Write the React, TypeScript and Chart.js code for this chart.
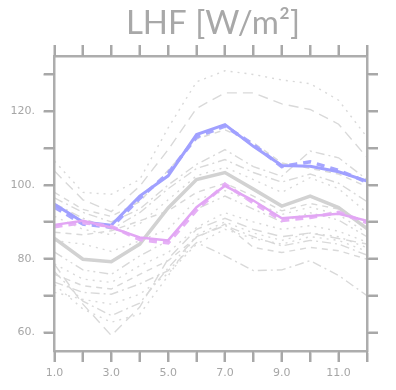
import React, { useEffect, useRef } from 'react';
import { Chart, registerables } from 'chart.js';

Chart.register(...registerables);

// ---- data ----
const months = [1, 2, 3, 4, 5, 6, 7, 8, 9, 10, 11, 12];
const yTickValues = [60, 70, 80, 90, 100, 110, 120, 130];

const blueSolid = [94.8, 90.0, 89.1, 97.0, 102.5, 113.7, 116.4, 110.5, 105.3, 105.1, 103.6, 101.1];
const blueDashed = [94.0, 89.4, 88.6, 96.4, 103.2, 113.0, 116.0, 111.0, 105.0, 106.3, 104.0, 100.8];
const violetSolid = [89.2, 90.3, 88.5, 85.8, 85.0, 94.0, 99.8, 95.8, 91.0, 91.6, 92.2, 90.3];
const violetDashed = [88.7, 89.8, 88.8, 85.2, 84.3, 93.2, 100.2, 95.2, 90.4, 91.2, 92.6, 89.8];
const grayMean = [85.5, 79.9, 79.2, 84.0, 93.8, 101.5, 103.4, 98.9, 94.3, 97.0, 93.9, 88.2];

const ens01 = [106.5, 98.0, 97.5, 101.5, 115.5, 128.0, 131.0, 130.0, 128.5, 127.5, 123.0, 113.0];
const ens02 = [103.8, 96.0, 92.8, 99.7, 109.6, 120.8, 125.0, 125.0, 122.0, 120.5, 116.5, 107.5];
const ens03 = [98.0, 93.4, 91.5, 95.5, 104.0, 112.5, 115.0, 111.5, 106.0, 104.5, 103.0, 99.5];
const ens04 = [96.5, 92.6, 90.0, 93.5, 100.0, 105.6, 109.6, 105.0, 102.4, 109.2, 107.4, 101.5];
const ens05 = [95.0, 91.0, 88.0, 92.5, 99.0, 104.5, 106.9, 103.4, 100.8, 103.0, 100.5, 95.5];
const ens06 = [91.5, 88.0, 86.5, 89.5, 96.0, 102.5, 104.8, 101.5, 98.0, 102.0, 99.0, 92.5];
const ens07 = [87.2, 86.5, 87.6, 90.3, 93.0, 98.0, 100.5, 97.0, 93.0, 95.0, 93.5, 88.5];
const ens08 = [84.9, 84.0, 82.0, 84.9, 88.0, 96.0, 98.5, 95.5, 92.0, 94.0, 92.0, 87.0];
const ens09 = [81.8, 77.0, 75.8, 80.8, 84.9, 93.5, 97.0, 93.5, 90.0, 92.5, 90.5, 86.0];
const ens10 = [78.6, 74.5, 73.6, 78.1, 81.7, 88.5, 92.5, 90.0, 88.0, 89.0, 87.5, 84.5];
const ens11 = [75.8, 72.7, 71.8, 75.8, 79.5, 85.8, 89.4, 83.1, 81.7, 83.1, 82.2, 79.9];
const ens12 = [73.7, 70.9, 70.4, 73.2, 76.8, 84.4, 80.8, 76.8, 77.0, 79.5, 75.5, 70.0];
const ens13 = [70.9, 69.0, 67.7, 70.4, 76.0, 84.0, 88.0, 85.5, 84.0, 86.0, 85.0, 82.0];
const ens14 = [78.5, 67.7, 59.2, 66.9, 80.0, 88.0, 91.0, 88.0, 86.0, 87.0, 85.5, 84.0];
const ens15 = [73.0, 66.4, 62.8, 65.0, 75.4, 86.5, 90.0, 87.0, 85.0, 87.0, 86.0, 83.0];
const ens16 = [76.5, 68.5, 64.6, 68.0, 77.5, 86.0, 89.0, 86.0, 83.5, 85.0, 84.0, 81.0];

const ensemble = [ens01, ens02, ens03, ens04, ens05, ens06, ens07, ens08, ens09, ens10, ens11, ens12, ens13, ens14, ens15, ens16];

const titleText = 'LHF [W/m²]';

// ---- styles ----
const DOT = [2, 5];
const DASH = [6, 5];
const LONG = [10, 6];
const DASHDOT = [9, 4, 2, 4];
const DASHDOTDOT = [9, 4, 2, 4, 2, 4];
const ensDashes = [DOT, LONG, DASH, DASHDOT, DASHDOT, DOT, DASH, DOT, DASHDOTDOT, DOT, DASH, DASHDOT, DOT, LONG, DOT, DASHDOT];

const axisColor = '#adadad';
const tickColor = '#a8a8a8';
const labelColor = '#a6a6a6';
const TICK_LEN = 11;

const toXY = (arr: number[]) => months.map((m, i) => ({ x: m, y: arr[i] }));

export default function App() {
  const ref = useRef<HTMLCanvasElement>(null);

  useEffect(() => {
    document.body.style.margin = '0';
    const canvas = ref.current!;

    const decorPlugin = {
      id: 'decor',
      afterDraw(chart: any) {
        const ctx = chart.ctx;
        const area = chart.chartArea;
        const xs = chart.scales.x;
        const ys = chart.scales.y;
        ctx.save();
        ctx.setLineDash([]);
        ctx.globalAlpha = 1;
        ctx.globalCompositeOperation = 'source-over';
        ctx.fillStyle = tickColor;
        months.forEach((m) => {
          const px = Math.round(xs.getPixelForValue(m));
          ctx.fillRect(px - 1, Math.round(area.bottom), 2, TICK_LEN);
          ctx.fillRect(px - 1, Math.round(area.top) - TICK_LEN, 2, TICK_LEN);
        });
        yTickValues.forEach((v) => {
          const py = Math.round(ys.getPixelForValue(v));
          ctx.fillRect(Math.round(area.left) - TICK_LEN, py - 1, TICK_LEN, 2);
          ctx.fillRect(Math.round(area.right), py - 1, TICK_LEN, 2);
        });
        ctx.font = '33px Lato';
        ctx.fillStyle = '#a8a8a8';
        ctx.textAlign = 'center';
        ctx.textBaseline = 'alphabetic';
        ctx.fillText(titleText, 213, 34);
        ctx.restore();
      },
    };

    const base = { pointRadius: 0, pointHoverRadius: 0, tension: 0, fill: false };

    const datasets: any[] = [
      { ...base, data: toXY(violetSolid), borderColor: '#e2a6f4', borderWidth: 2.5, order: 0 },
      { ...base, data: toXY(violetDashed), borderColor: '#e6b0f6', borderWidth: 3.5, borderDash: [8, 6], order: 1 },
      { ...base, data: toXY(blueSolid), borderColor: '#a0a0ff', borderWidth: 3, order: 2 },
      { ...base, data: toXY(blueDashed), borderColor: '#a6a6ff', borderWidth: 3.5, borderDash: [8, 6], order: 3 },
      { ...base, data: toXY(grayMean), borderColor: '#d2d2d2', borderWidth: 3.5, order: 4 },
      ...ensemble.map((arr, i) => ({
        ...base,
        data: toXY(arr),
        borderColor: '#d9d9d9',
        borderWidth: 1.4,
        borderDash: ensDashes[i],
        order: 10 + i,
      })),
    ];

    const setTicks = (vals: number[]) => (s: any) => {
      s.ticks = vals.map((v) => ({ value: v }));
    };
    const gridOpts = { drawOnChartArea: false, drawTicks: true, tickLength: TICK_LEN, tickColor: tickColor, tickWidth: 2 };
    const borderOpts = { color: axisColor, width: 2.5, z: 1 };
    const tickFont = { family: 'DejaVu Sans', size: 11 };

    const chart = new Chart(canvas, {
      type: 'line',
      data: { datasets },
      plugins: [decorPlugin],
      options: {
        animation: false,
        responsive: false,
        layout: { padding: 0 },
        plugins: { legend: { display: false }, title: { display: false }, tooltip: { enabled: false } },
        scales: {
          x: {
            type: 'linear',
            position: 'bottom',
            min: 1,
            max: 12,
            afterBuildTicks: setTicks(months),
            afterFit: (s: any) => { s.height = 39; },
            ticks: {
              autoSkip: false,
              maxRotation: 0,
              padding: 5,
              color: labelColor,
              font: tickFont,
              callback: (v: any) => (Number(v) % 2 === 1 ? Number(v).toFixed(1) : ''),
            },
            grid: { ...gridOpts },
            border: { ...borderOpts },
          },
          x2: {
            type: 'linear',
            position: 'top',
            min: 1,
            max: 12,
            afterBuildTicks: setTicks(months),
            afterFit: (s: any) => { s.height = 56; },
            ticks: { autoSkip: false, maxRotation: 0, callback: () => '' },
            grid: { ...gridOpts },
            border: { ...borderOpts },
          },
          y: {
            type: 'linear',
            position: 'left',
            min: 55,
            max: 135,
            afterBuildTicks: setTicks(yTickValues),
            afterFit: (s: any) => { s.width = 54.5; },
            ticks: {
              autoSkip: false,
              padding: 8.5,
              color: labelColor,
              font: tickFont,
              callback: (v: any) => (Number(v) % 20 === 0 ? `${v}.` : ''),
            },
            grid: { ...gridOpts },
            border: { ...borderOpts },
          },
          y2: {
            type: 'linear',
            position: 'right',
            min: 55,
            max: 135,
            afterBuildTicks: setTicks(yTickValues),
            afterFit: (s: any) => { s.width = 29; },
            ticks: { autoSkip: false, callback: () => '' },
            grid: { ...gridOpts },
            border: { ...borderOpts },
          },
        },
      },
    });

    return () => chart.destroy();
  }, []);

  return (
    <div style={{ width: 396, height: 390 }}>
      <canvas ref={ref} width={396} height={390} />
    </div>
  );
}
